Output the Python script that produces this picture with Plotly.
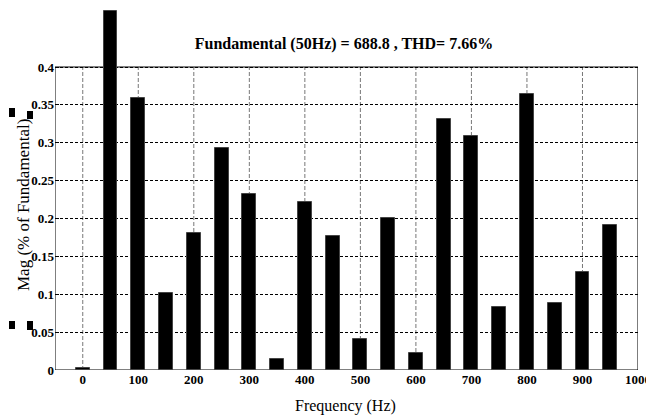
import plotly.graph_objects as go

freq_hz = [0, 50, 100, 150, 200, 250, 300, 350, 400, 450,
           500, 550, 600, 650, 700, 750, 800, 850, 900, 950]
mag_pct = [0.003, 0.474, 0.359, 0.101, 0.181, 0.293, 0.233, 0.014, 0.222, 0.177,
           0.041, 0.201, 0.022, 0.332, 0.309, 0.083, 0.365, 0.088, 0.130, 0.192]
x_ticks = [0, 100, 200, 300, 400, 500, 600, 700, 800, 900, 1000]
y_ticks = [0, 0.05, 0.1, 0.15, 0.2, 0.25, 0.3, 0.35, 0.4]
title_text = "Fundamental (50Hz) = 688.8 , THD= 7.66%"

X_MIN, X_MAX, Y_TOP = -50, 1000, 0.4
L, R, T, B = 55, 8, 10, 47
W, H = 646, 417
plot_h = H - T - B
y_max = Y_TOP * plot_h / (plot_h - (67 - T))

serif = "Liberation Serif, Times New Roman, serif"

fig = go.Figure(go.Bar(
    x=freq_hz, y=mag_pct, width=25,
    marker=dict(color="black", line=dict(color="#444444", width=1)),
))

shapes = []
for xv in x_ticks[:-1]:
    shapes.append(dict(type="line", xref="x", yref="y", x0=xv, x1=xv, y0=0, y1=Y_TOP,
                       line=dict(color="#777777", width=1, dash="4px,2px"), layer="below"))
shapes.append(dict(type="rect", xref="x", yref="y", x0=X_MIN, x1=X_MAX, y0=0, y1=Y_TOP,
                   line=dict(color="black", width=1), fillcolor="rgba(0,0,0,0)", layer="below"))
plot_w = W - L - R
def px_x(p):
    return (p - L) / plot_w
def px_y(p):
    return 1 - (p - T) / plot_h
for (x0, x1, y0, y1) in [(9, 15, 108, 117), (27, 33, 111, 119), (9, 15, 321, 329), (27, 33, 321, 330)]:
    shapes.append(dict(type="rect", xref="paper", yref="paper",
                       x0=px_x(x0), x1=px_x(x1), y0=px_y(y1), y1=px_y(y0),
                       fillcolor="black", line=dict(width=0)))

fig.update_layout(
    width=W, height=H,
    margin=dict(l=L, r=R, t=T, b=B, autoexpand=False),
    paper_bgcolor="white", plot_bgcolor="white",
    showlegend=False,
    bargap=0,
    title=dict(text="<b>" + title_text + "</b>", x=344 / W,
               xanchor="center", y=1 - 43 / H, yanchor="middle", yref="container",
               font=dict(family=serif, size=16, color="black")),
    xaxis=dict(range=[X_MIN, X_MAX + 0.01], tickvals=x_ticks, ticktext=[f"<b>{v}</b>" for v in x_ticks],
               showgrid=False, zeroline=False, showline=False, ticklabeloverflow="allow",
               automargin=False,
               ticks="", tickfont=dict(family=serif, size=13, color="black")),
    yaxis=dict(range=[0, y_max], tickvals=y_ticks, automargin=False,
               ticktext=[f"<b>{v:g}</b>" for v in y_ticks],
               showgrid=True, gridcolor="black", griddash="3px,2px", gridwidth=1,
               zeroline=False, showline=False,
               ticks="inside", ticklen=4, tickcolor="black",
               tickfont=dict(family=serif, size=13, color="black")),
    shapes=shapes,
    annotations=[
        dict(text="Mag (% of Fundamental)", textangle=-90, xref="paper", yref="paper",
             x=px_x(23), y=px_y(205), xanchor="center", yanchor="middle", showarrow=False,
             font=dict(family=serif, size=17, color="black")),
        dict(text="Frequency (Hz)", xref="paper", yref="paper",
             x=px_x(345), y=px_y(406), xanchor="center", yanchor="middle", showarrow=False,
             font=dict(family=serif, size=16, color="black")),
    ],
)

fig.write_html("out.html")
